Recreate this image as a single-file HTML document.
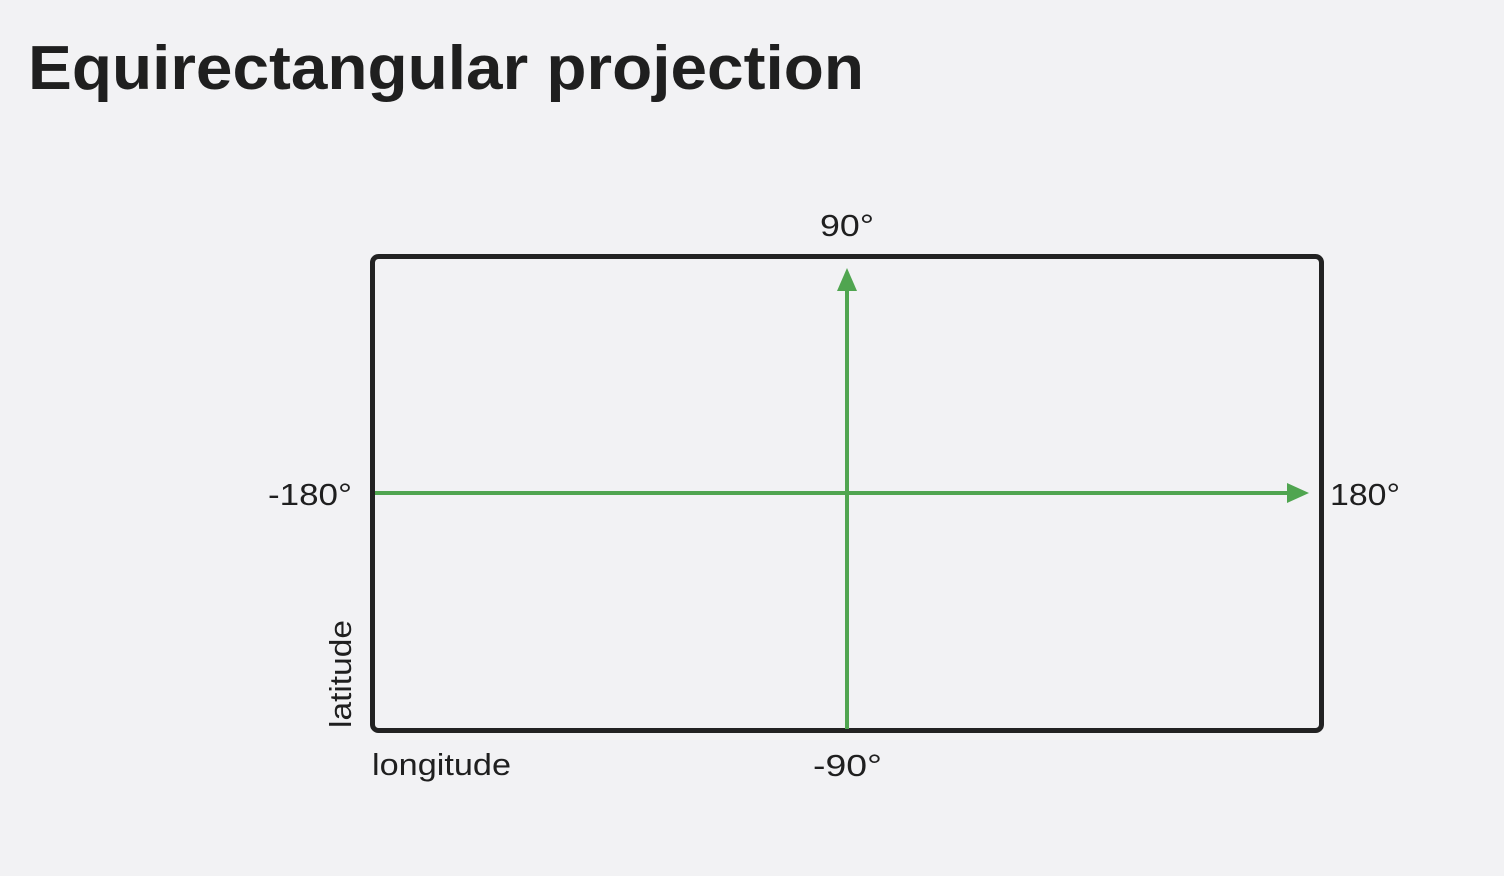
<!DOCTYPE html>
<html><head><meta charset="utf-8">
<style>
html,body{margin:0;padding:0;background:#f2f2f4;}
body{width:1504px;height:876px;overflow:hidden;position:relative;font-family:"Liberation Sans",sans-serif;}
</style></head>
<body>
<svg width="1504" height="876" viewBox="0 0 1504 876" xmlns="http://www.w3.org/2000/svg" style="position:absolute;left:0;top:0">
  <text x="28" y="89" font-family="Liberation Sans, sans-serif" font-weight="bold" font-size="62" fill="#1f1f1f" textLength="836" lengthAdjust="spacingAndGlyphs">Equirectangular projection</text>
  <rect x="372.5" y="256.5" width="949" height="474" rx="6" ry="6" fill="none" stroke="#222" stroke-width="5"/>
  <line x1="375" y1="493" x2="1290" y2="493" stroke="#50a550" stroke-width="4"/>
  <polygon points="1309,493 1287,483 1287,503" fill="#50a550"/>
  <line x1="847" y1="729" x2="847" y2="288" stroke="#50a550" stroke-width="4"/>
  <polygon points="847,268 837,291 857,291" fill="#50a550"/>
  <g font-family="Liberation Sans, sans-serif" font-size="31" fill="#1f1f1f">
    <text x="820" y="236" textLength="54" lengthAdjust="spacingAndGlyphs">90°</text>
    <text x="813" y="776" textLength="69" lengthAdjust="spacingAndGlyphs">-90°</text>
    <text x="268" y="505" textLength="84" lengthAdjust="spacingAndGlyphs">-180°</text>
    <text x="1330" y="505" textLength="70" lengthAdjust="spacingAndGlyphs">180°</text>
    <text x="372" y="775" textLength="139" lengthAdjust="spacingAndGlyphs">longitude</text>
    <text transform="translate(351,728) rotate(-90)" textLength="108" lengthAdjust="spacingAndGlyphs">latitude</text>
  </g>
</svg>
</body></html>
